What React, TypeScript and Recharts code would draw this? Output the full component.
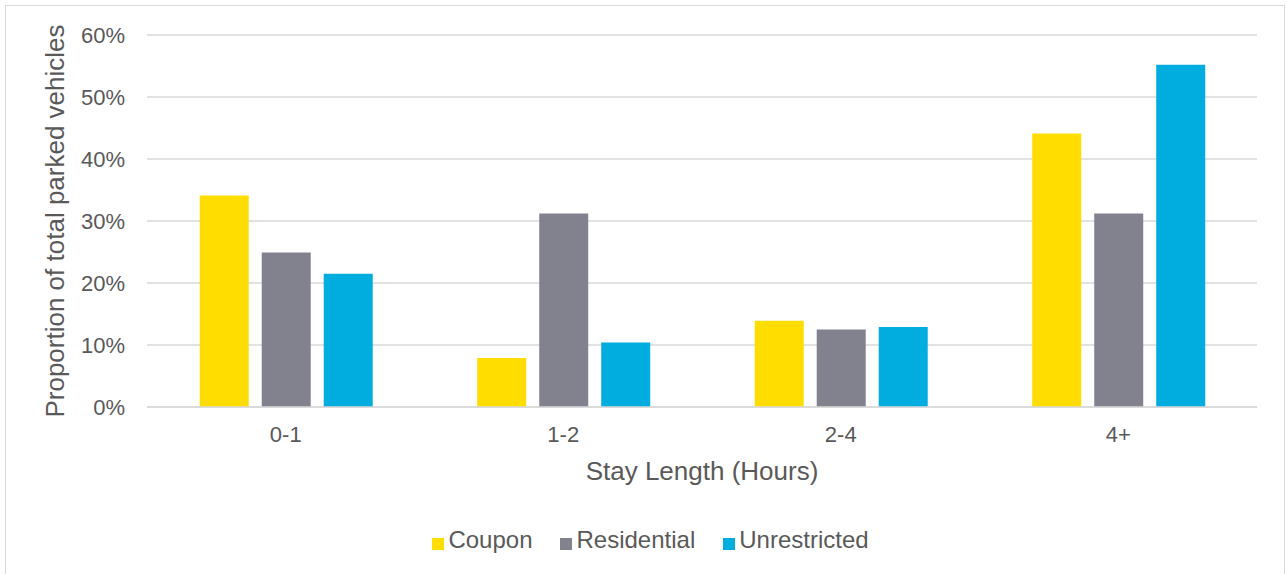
import React from "react";
import {
  BarChart,
  Bar,
  XAxis,
  YAxis,
  CartesianGrid,
  Legend,
} from "recharts";

const stayLengths = ["0-1", "1-2", "2-4", "4+"];
const coupon = [34.1, 7.9, 13.9, 44.1];
const residential = [24.9, 31.2, 12.5, 31.2];
const unrestricted = [21.5, 10.4, 12.9, 55.2];
const yTicks = [0, 10, 20, 30, 40, 50, 60];

const data = stayLengths.map((s, i) => ({
  stay: s,
  Coupon: coupon[i],
  Residential: residential[i],
  Unrestricted: unrestricted[i],
}));

const textGray = "#595959";
const gridGray = "#d9d9d9";

const App: React.FC = () => {
  return (
    <div
      style={{
        position: "absolute",
        left: 0,
        top: 0,
        width: 1286,
        height: 574,
        overflow: "hidden",
        background: "#fff",
        fontFamily: "'Liberation Sans', Arial, sans-serif",
      }}
    >
      <div
        style={{
          position: "absolute",
          left: 5,
          top: 5,
          width: 1278,
          height: 600,
          border: `1.5px solid ${gridGray}`,
        }}
      />
      <BarChart
        width={1286}
        height={574}
        data={data}
        margin={{ top: 35, right: 29, left: 0, bottom: 20 }}
        barCategoryGap="19%"
        barGap={13}
      >
        <CartesianGrid vertical={false} stroke={gridGray} strokeWidth={1.5} />
        <XAxis
          dataKey="stay"
          height={119}
          axisLine={{ stroke: gridGray, strokeWidth: 1.5 }}
          tickLine={false}
          tick={{ fill: textGray, fontSize: 22 }}
          tickMargin={13}
          label={{
            value: "Stay Length (Hours)",
            position: "insideTop",
            offset: 55,
            fill: textGray,
            fontSize: 26,
          }}
        />
        <YAxis
          width={147}
          domain={[0, 60]}
          ticks={yTicks}
          tickFormatter={(v: number) => `${v}%`}
          axisLine={false}
          tickLine={false}
          tickMargin={16}
          tick={{ fill: textGray, fontSize: 22 }}
          label={{
            value: "Proportion of total parked vehicles",
            angle: -90,
            position: "insideLeft",
            offset: 55,
            fill: textGray,
            fontSize: 26,
            style: { textAnchor: "middle" },
          }}
        />
        <Legend
          verticalAlign="bottom"
          iconType="square"
          iconSize={12}
          wrapperStyle={{ left: 36 }}
          formatter={(value: string) => (
            <span style={{ color: textGray, fontSize: 24, marginRight: 18 }}>
              {value}
            </span>
          )}
        />
        <Bar dataKey="Coupon" fill="#FFDD00" isAnimationActive={false} />
        <Bar dataKey="Residential" fill="#81828E" isAnimationActive={false} />
        <Bar dataKey="Unrestricted" fill="#00ADDE" isAnimationActive={false} />
      </BarChart>
    </div>
  );
};

export default App;
